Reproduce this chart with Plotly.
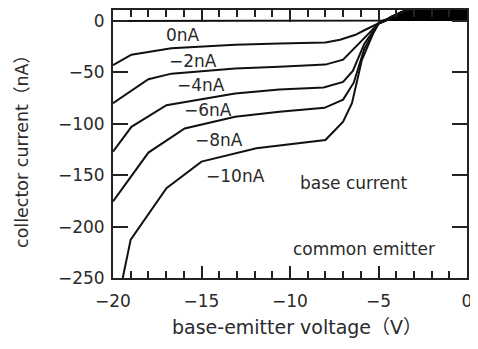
import plotly.graph_objects as go

# ---- data ----
x_ticks = [-20, -15, -10, -5, 0]
x_ticktext = ["−20", "−15", "−10", "−5", "0"]
y_ticks = [0, -50, -100, -150, -200, -250]
y_ticktext = ["0", "−50", "−100", "−150", "−200", "−250"]

base_labels = ["0nA", "−2nA", "−4nA", "−6nA", "−8nA", "−10nA"]

v_0 = [-20, -5.0, -4.6, -4.3, -3.7, -3.3]
i_0 = [0, 0, 0.5, 3.7, 8.5, 11]

v_2 = [-20, -18.96, -16.7, -13.1, -10.6, -8.0, -7.17, -6.3, -5.8, -5.0, -4.6, -4.3, -3.7, -3.3]
i_2 = [-43, -32.8, -26.4, -23.1, -22.0, -21.0, -18.2, -13.4, -9, -2.5, 0.5, 3.7, 8.5, 11]

v_4 = [-20, -18.0, -16.7, -13.1, -10.6, -8.0, -7.0, -6.5, -5.8, -5.0, -4.6, -4.3, -3.7, -3.3]
i_4 = [-80, -56.7, -51.2, -46.3, -44.5, -42.4, -37.6, -28.6, -16, -2.5, 0.5, 3.7, 8.5, 11]

v_6 = [-20, -18.96, -16.98, -13.1, -10.6, -8.1, -7.0, -6.45, -5.8, -5.0, -4.6, -4.3, -3.7, -3.3]
i_6 = [-127, -102.9, -81.9, -70.5, -66.7, -64.7, -59.3, -48.5, -22, -2.5, 0.5, 3.7, 8.5, 11]

v_8 = [-20, -18.0, -15.95, -13.1, -10.6, -8.05, -7.0, -6.4, -5.8, -5.0, -4.6, -4.3, -3.7, -3.3]
i_8 = [-175.6, -128, -104.5, -93.2, -88.4, -84.5, -76.5, -60, -27, -2.5, 0.5, 3.7, 8.5, 11]

v_10 = [-19.45, -19.0, -16.98, -15.0, -11.9, -9.43, -8.0, -7.45, -7.0, -6.5, -5.94, -5.3, -5.0, -4.6, -4.3, -3.7, -3.3]
i_10 = [-250, -212.7, -162.6, -136.8, -123.8, -119, -115.8, -106, -98, -80, -38, -12, -2.5, 0.5, 3.7, 8.5, 11]

# saturated (overlapping) region at top right
sat_v = [-4.9, -4.3, -3.7, -3.3, 0, 0]
sat_i = [0, 3.7, 8.5, 11, 11, 0]

# label anchor points (data coords)
label_v = [-16.06, -15.49, -15.04, -14.64, -14.02, -13.06]
label_i = [-14.0, -39.2, -62.5, -86.7, -115.8, -150.7]

notes = ["base current", "common emitter"]
notes_v = [-6.38, -5.81]
notes_i = [-157.4, -221.4]

x_title = "base-emitter voltage（V）"
y_title = "collector current（nA）"

FONT = "DejaVu Sans, Noto Sans CJK JP, sans-serif"
TXT = "#2a2a2a"
LINE = "#111111"

fig = go.Figure()
fig.add_trace(go.Scatter(x=sat_v, y=sat_i, fill="toself", fillcolor="#000000",
                         mode="lines", line=dict(color="#000000", width=1),
                         hoverinfo="skip", showlegend=False))
for vv, ii in [(v_0, i_0), (v_2, i_2), (v_4, i_4), (v_6, i_6), (v_8, i_8), (v_10, i_10)]:
    fig.add_trace(go.Scatter(x=vv, y=ii, mode="lines",
                             line=dict(color=LINE, width=2),
                             showlegend=False))

for txt, xv, yv in zip(base_labels, label_v, label_i):
    fig.add_annotation(x=xv, y=yv, text=txt, showarrow=False,
                       xanchor="center", yanchor="middle",
                       font=dict(family=FONT, size=17, color=TXT))
for txt, xv, yv in zip(notes, notes_v, notes_i):
    fig.add_annotation(x=xv, y=yv, text=txt, showarrow=False,
                       xanchor="center", yanchor="middle",
                       font=dict(family=FONT, size=17, color=TXT))

fig.add_annotation(xref="paper", yref="paper", x=0.52, y=-0.183, text=x_title,
                   xanchor="center", yanchor="middle",
                   showarrow=False, font=dict(family=FONT, size=19, color=TXT))
fig.add_annotation(xref="paper", yref="paper", x=-0.257, y=0.489, text=y_title,
                   xanchor="center", yanchor="middle",
                   textangle=-90, showarrow=False,
                   font=dict(family=FONT, size=17.5, color=TXT))

fig.update_xaxes(range=[-20, 0], tickvals=x_ticks, ticktext=x_ticktext,
                 ticks="inside", ticklen=12, tickwidth=2, tickcolor="#222222",
                 minor=dict(dtick=1, ticks="inside", ticklen=7, tickwidth=1.5, tickcolor="#222222"),
                 showline=True, linewidth=2, linecolor="#222222", mirror="ticks",
                 showgrid=False, zeroline=False, automargin=False,
                 ticklabelstandoff=7, ticklabeloverflow="allow",
                 tickfont=dict(family=FONT, size=17, color=TXT))
fig.update_yaxes(range=[-250, 10.7], tickvals=y_ticks, ticktext=y_ticktext,
                 ticks="inside", ticklen=15, tickwidth=2, tickcolor="#222222",
                 showline=True, linewidth=2, linecolor="#222222", mirror="ticks",
                 showgrid=False, zeroline=False, automargin=False,
                 ticklabelstandoff=3, ticklabeloverflow="allow",
                 tickfont=dict(family=FONT, size=17, color=TXT))

# the page body adds an 8px offset, so the figure is 8px smaller than the window
fig.update_layout(width=470, height=341,
                  margin=dict(l=105, r=11, t=2, b=71),
                  paper_bgcolor="white", plot_bgcolor="white")

fig.write_html("out.html")
